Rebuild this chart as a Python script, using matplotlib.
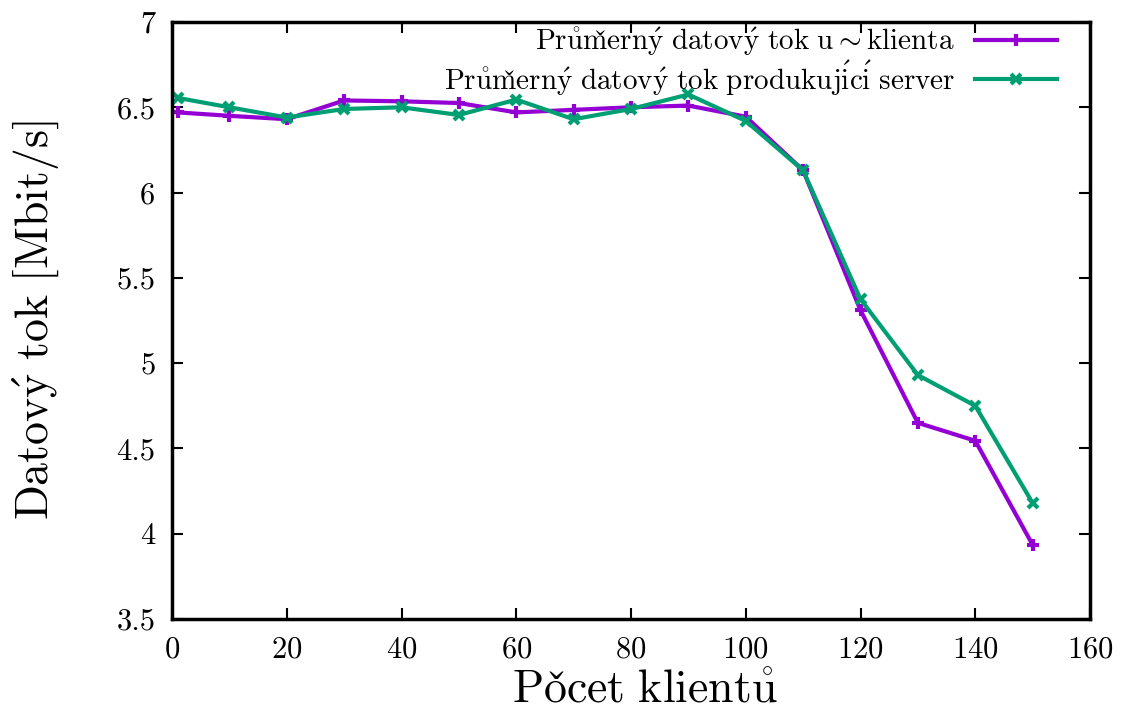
import numpy as np
import matplotlib
matplotlib.use("Agg")
import matplotlib.pyplot as plt

plt.rcParams['font.family'] = ['cmr10', 'DejaVu Serif']
plt.rcParams['mathtext.fontset'] = 'cm'
plt.rcParams['axes.formatter.use_mathtext'] = True

# počet klientů
klienti = [1, 10, 20, 30, 40, 50, 60, 70, 80, 90, 100, 110, 120, 130, 140, 150]

# průměrný datový tok u klienta [Mbit/s]
tok_klient = [6.47, 6.45, 6.43, 6.54, 6.535, 6.525, 6.47, 6.485, 6.50, 6.51, 6.445,
              6.13, 5.31, 4.65, 4.545, 3.935]

# průměrný datový tok produkující server [Mbit/s]
tok_server = [6.555, 6.50, 6.44, 6.49, 6.50, 6.455, 6.545, 6.43, 6.49, 6.575, 6.42,
              6.13, 5.375, 4.93, 4.75, 4.18]

popisky = ['Průměrný datový tok u~klienta', 'Průměrný datový tok produkující server']
osa_x = 'Počet klientů'
osa_y = 'Datový tok [Mbit/s]'


# cmr10 nema ceske znaky -> slozit akcenty v mathtextu
def tex(s):
    nahrady = {'ů': r'\mathring{u}', 'ě': r'\check{e}', 'ý': r'\acute{y}',
               'č': r'\check{c}', 'í': r'\acute{i}', ' ': r'\ ',
               '~': r'{\sim}'}
    return '$\\mathrm{' + ''.join(nahrady.get(c, c) for c in s) + '}$'


fig = plt.figure(figsize=(11.23, 7.11), dpi=100)
ax = fig.add_axes([172 / 1123, 1 - 619 / 711, (1090 - 172) / 1123, (619 - 22) / 711])

ax.plot(klienti, tok_klient, color='#9400d3', lw=3, marker='+', ms=9, mew=3,
        label=tex(popisky[0]))
ax.plot(klienti, tok_server, color='#009e73', lw=3, marker='x', ms=7, mew=3,
        label=tex(popisky[1]))

ax.set_xlim(0, 160)
ax.set_ylim(3.5, 7)
ax.set_xticks(np.arange(0, 161, 20))
ax.set_yticks(np.arange(3.5, 7.01, 0.5))
ax.set_yticklabels(['3.5', '4', '4.5', '5', '5.5', '6', '6.5', '7'])
ax.tick_params(direction='in', top=True, right=True, length=8, width=1.5,
               labelsize=22, pad=12)
for s in ax.spines.values():
    s.set_linewidth(2.5)

ax.set_xlabel(tex(osa_x), fontsize=33)
ax.xaxis.set_label_coords(0.515, -0.085)
ax.set_ylabel(tex(osa_y), fontsize=33, labelpad=40)

ax.legend(loc='upper right', bbox_to_anchor=(0.964, 0.993), frameon=False,
          markerfirst=False, fontsize=21, handlelength=2.8, borderaxespad=0,
          borderpad=0, labelspacing=0, handletextpad=0.7)

fig.savefig('out.png', dpi=100)
